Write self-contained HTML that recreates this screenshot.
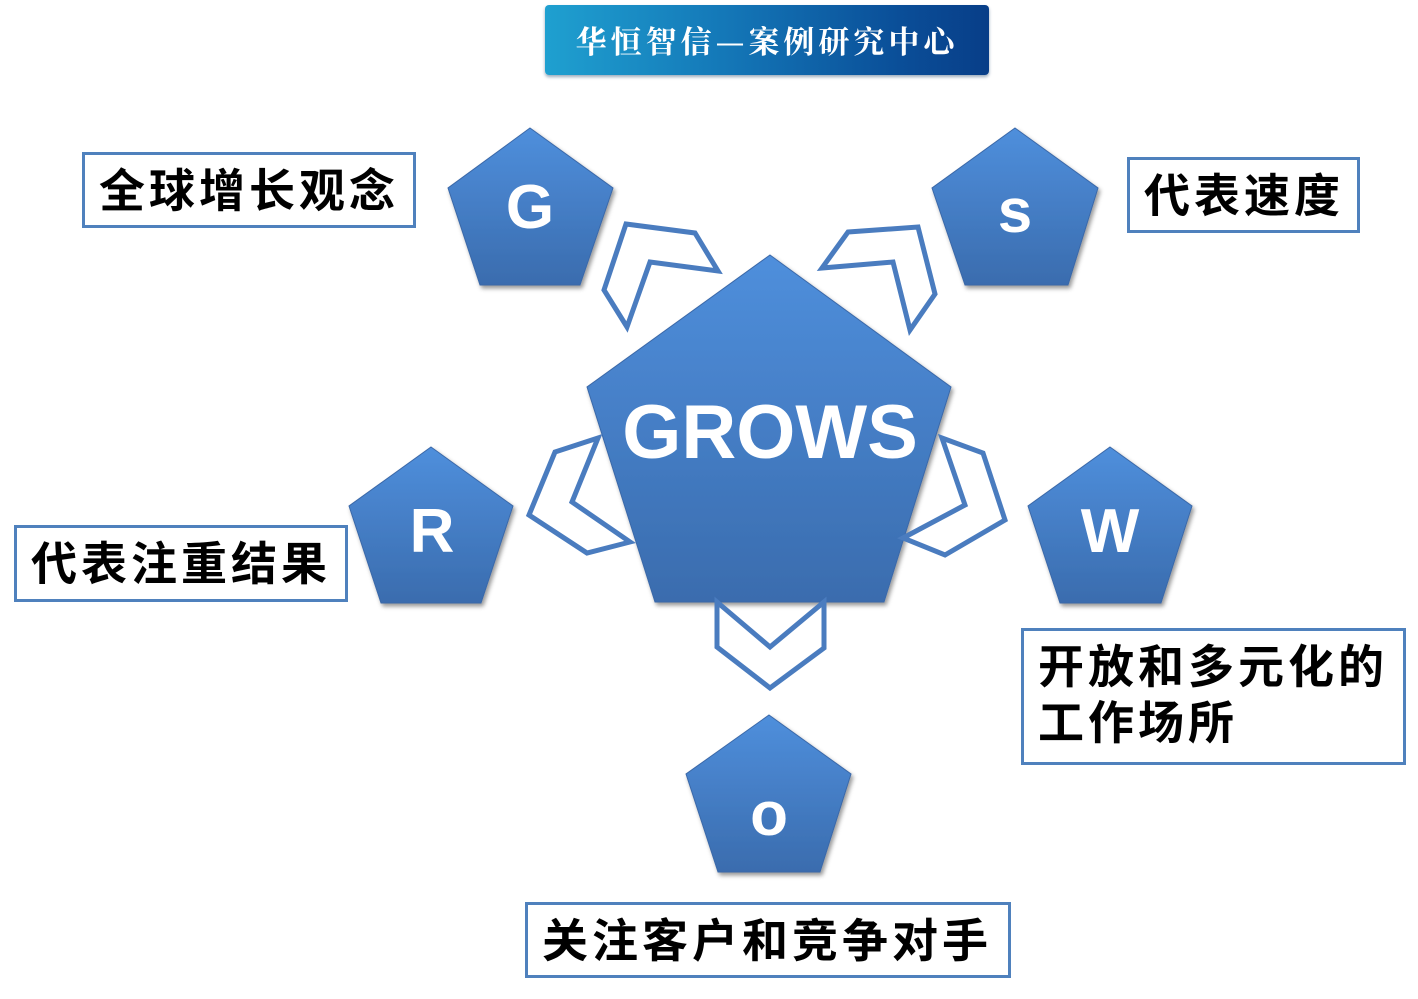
<!DOCTYPE html>
<html><head><meta charset="utf-8"><style>
body{margin:0;background:#fff;width:1418px;height:999px;overflow:hidden;position:relative;font-family:"Liberation Sans","Noto Sans CJK SC",sans-serif}
.hdr{position:absolute;left:545px;top:5px;width:444px;height:70px;border-radius:4px;background:linear-gradient(90deg,#1fa0d0 0%,#1478b8 40%,#0a4e98 80%,#083e88 100%);box-shadow:0 2px 3px #9ab;color:#fff;font-family:"Noto Serif CJK SC","Liberation Serif",serif;font-weight:bold;font-size:31px;line-height:70px;text-align:center;letter-spacing:4px}
.box{position:absolute;border:3px solid #4f81bd;box-sizing:border-box;font-weight:bold;font-size:46px;letter-spacing:4px;color:#000;padding-left:14px;line-height:72px;white-space:nowrap}
svg{position:absolute;left:0;top:0}
</style></head><body>
<div class="hdr">华恒智信—案例研究中心</div>
<svg width="1418" height="999">
<defs>
<linearGradient id="g" x1="0" y1="0" x2="0" y2="1"><stop offset="0" stop-color="#4f8fdc"/><stop offset="1" stop-color="#3a6cae"/></linearGradient>
<filter id="s"><feDropShadow dx="2" dy="3" stdDeviation="2" flood-opacity="0.4"/></filter>
</defs>
<g fill="url(#g)" stroke="#3a68a8" stroke-width="1" filter="url(#s)">
<polygon points="770,255 951,387 884,602 655,602 587,387"/>
<polygon points="530,128 613,188 580,285 480,285 448,188"/>
<polygon points="1015,128 1098,188 1068,285 965,285 932,188"/>
<polygon points="431,447 513,506 481,603 381,603 349,506"/>
<polygon points="1110,447 1192,506 1161,603 1060,603 1028,506"/>
<polygon points="769,715 851,774 820,872 718,872 686,774"/>
</g>
<g fill="#fff" stroke="#4a7cbf" stroke-width="5" stroke-linejoin="miter">
<polygon points="626,224 695,233 718,271 650,262 627,327 604,290"/>
<polygon points="848,232 918,227 935,294 910,330 893,262 822,268"/>
<polygon points="598,438 555,452 529,515 587,553 630,542 572,502"/>
<polygon points="942,438 983,453 1005,520 945,555 903,538 965,505"/>
<polygon points="717,602 770,647 824,602 824,648 770,688 717,647"/>
</g>
<g fill="#fff" font-family="Liberation Sans, sans-serif" font-weight="bold" text-anchor="middle">
<text x="770" y="458" font-size="76">GROWS</text>
<text x="530" y="228" font-size="62">G</text>
<text x="1015" y="232" font-size="62">s</text>
<text x="432" y="552" font-size="62">R</text>
<text x="1110" y="552" font-size="62">W</text>
<text x="769" y="835" font-size="62">o</text>
</g>
</svg>
<div class="box" style="left:82px;top:152px;width:334px;height:76px">全球增长观念</div>
<div class="box" style="left:1127px;top:157px;width:233px;height:76px">代表速度</div>
<div class="box" style="left:14px;top:525px;width:334px;height:77px">代表注重结果</div>
<div class="box" style="left:1021px;top:628px;width:385px;height:137px;line-height:56px;padding-top:8px">开放和多元化的<br>工作场所</div>
<div class="box" style="left:525px;top:902px;width:486px;height:76px">关注客户和竞争对手</div>
</body></html>
